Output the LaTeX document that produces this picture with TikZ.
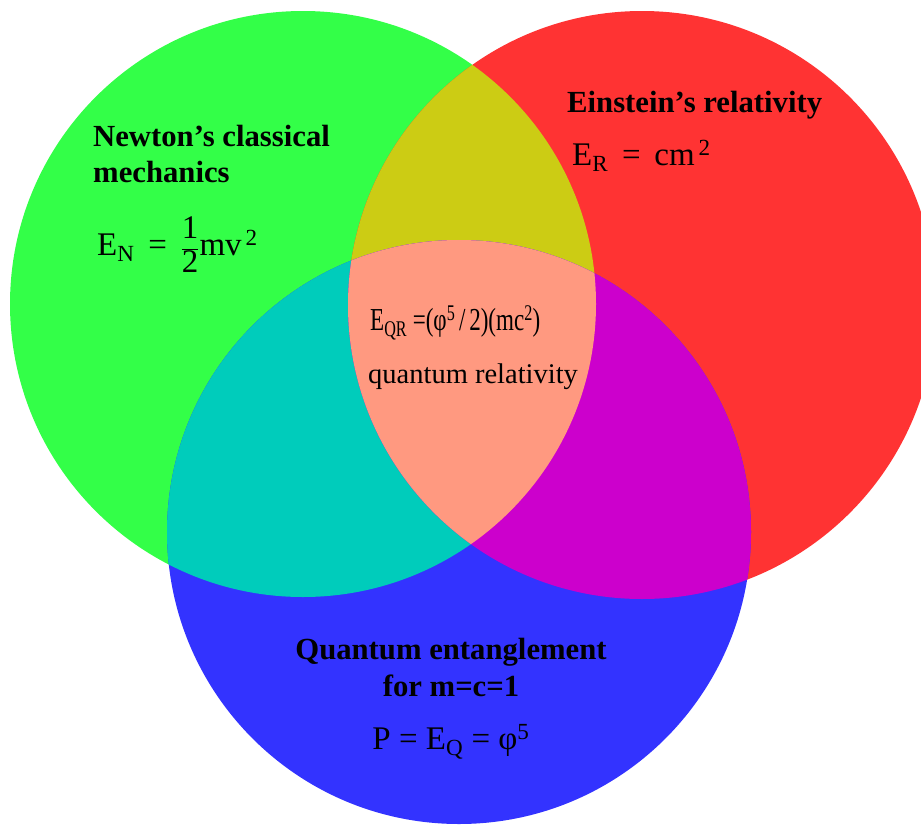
\documentclass[tikz,border=0pt]{standalone}
\usepackage{fontspec}
\setmainfont{Liberation Serif}
\definecolor{vgreen}{RGB}{51,255,72}
\definecolor{vred}{RGB}{255,51,51}
\definecolor{vblue}{RGB}{51,51,255}
\definecolor{vyellow}{RGB}{204,204,20}
\definecolor{vteal}{RGB}{0,204,187}
\definecolor{vmag}{RGB}{204,0,204}
\definecolor{vpeach}{RGB}{255,153,128}
\tikzset{
  title/.style={anchor=base west, inner sep=0pt, font=\fontsize{30.7}{36}\selectfont\bfseries},
  eqn/.style={anchor=base west, inner sep=0pt, font=\fontsize{33}{40}\selectfont},
}
\begin{document}
\begin{tikzpicture}[x=1pt,y=-1pt]
\useasboundingbox (0,0) rectangle (921,827);
\def\G{(303,304) circle (293)}
\def\R{(642,305) circle (294)}
\def\B{(459,532) circle (292)}
\fill[vgreen] \G;
\fill[vred] \R;
\fill[vblue] \B;
\begin{scope}\clip \G; \fill[vyellow] \R; \end{scope}
\begin{scope}\clip \G; \fill[vteal] \B; \end{scope}
\begin{scope}\clip \R; \fill[vmag] \B; \end{scope}
\begin{scope}\clip \G; \clip \R; \fill[vpeach] \B; \end{scope}

\node[title] (newton1) at (93,146) {Newton’s classical};
\node[title] (newton2) at (93,182) {mechanics};
\node[eqn] (eqN) at (97,255) {E\textsubscript{N} \,=\, $\displaystyle\frac{\hbox{1}}{\hbox{2}}$mv\textsuperscript{\,2}};

\node[title] (einstein) at (567,112) {Einstein’s relativity};
\node[eqn] (eqR) at (572,165) {E\textsubscript{R} \,=\, cm\textsuperscript{\,2}};

\node[eqn, font=\fontsize{32}{38}\selectfont] (eqQR) at (370,330) {\scalebox{0.72}[1]{E\textsubscript{QR} =(φ\textsuperscript{5}\,/\,2)(mc\textsuperscript{2})}};
\node[anchor=base west, inner sep=0pt, font=\fontsize{28.5}{34}\selectfont] (qr) at (368,383) {quantum relativity};

\node[anchor=base, inner sep=0pt, font=\fontsize{30.7}{36}\selectfont\bfseries] (qe1) at (451,659) {Quantum entanglement};
\node[anchor=base, inner sep=0pt, font=\fontsize{30.7}{36}\selectfont\bfseries] (qe2) at (451,696) {for m=c=1};
\node[eqn, anchor=base] (eqQ) at (451,749) {P = E\textsubscript{Q} = φ\textsuperscript{5}};
\end{tikzpicture}
\end{document}
